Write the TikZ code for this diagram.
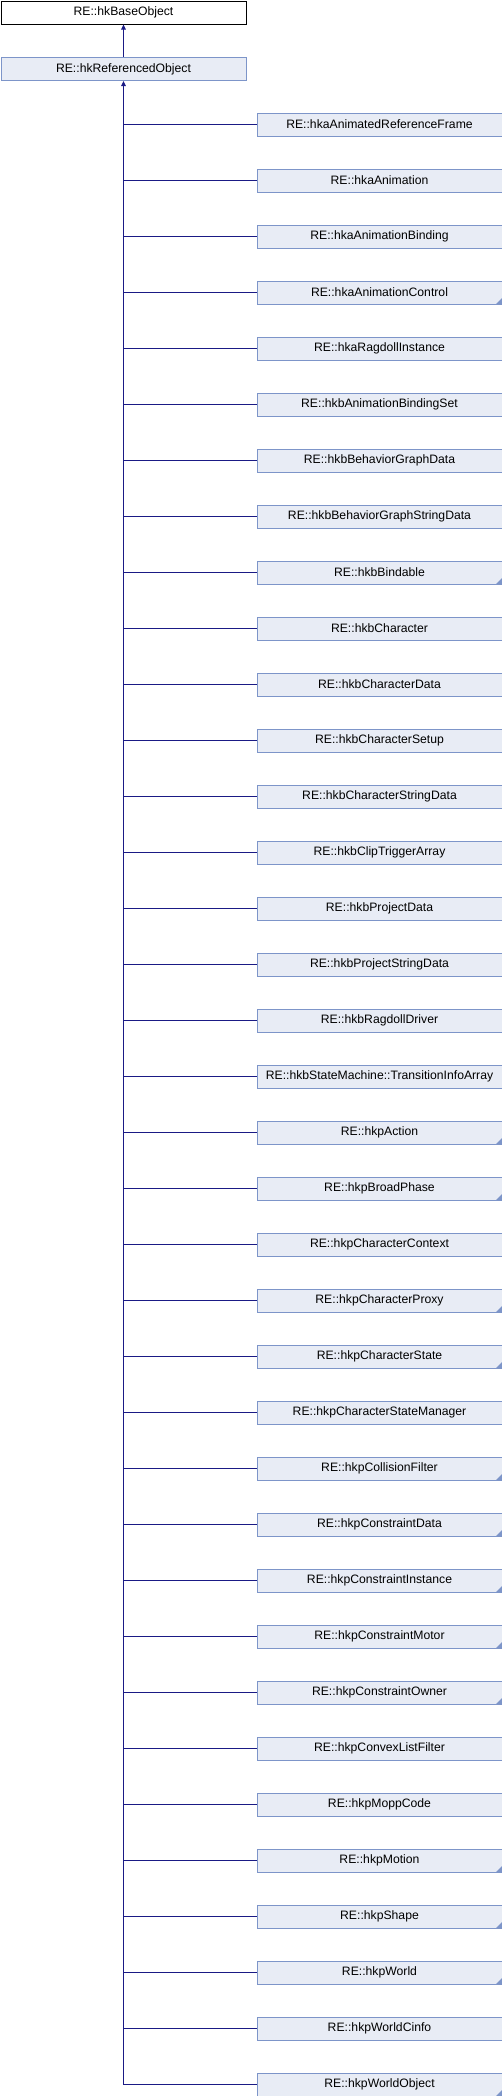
\documentclass[tikz,border=0pt]{standalone}
\usepackage{fontspec}
\setmainfont{Liberation Sans}
\usetikzlibrary{arrows.meta}
\definecolor{boxfill}{HTML}{E8ECF5}
\definecolor{boxline}{HTML}{7D95C9}
\definecolor{edgecol}{HTML}{1A1A85}
\tikzset{
  cls/.style={rectangle, draw=boxline, fill=boxfill, line width=1pt,
    minimum width=245pt, minimum height=23pt, inner sep=0pt, anchor=north west,
    font=\fontsize{12.2}{14}\selectfont},
  basecls/.style={cls, draw=black, fill=white},
  more/.style={path picture={\fill[boxline] (path picture bounding box.south east) -- ++(-6pt,0pt) -- ++(6pt,6pt) -- cycle;}},
  edge/.style={draw=edgecol, line width=1pt},
  inh/.style={edge, {Triangle[length=5pt,width=4.5pt]}-},
}
\begin{document}
\begin{tikzpicture}[x=1pt,y=-1pt]
\useasboundingbox (0,0) rectangle (502,2096);
\node[basecls] (base) at (0.5,0.5) {RE::hkBaseObject};
\node[cls] (ref) at (0.5,57) {RE::hkReferencedObject};
\draw[inh] (base.south) -- (ref.north);
\foreach \n/\t/\m [count=\i from 0] in {
  c1/RE::hkaAnimatedReferenceFrame/0,
  c2/RE::hkaAnimation/0,
  c3/RE::hkaAnimationBinding/0,
  c4/RE::hkaAnimationControl/1,
  c5/RE::hkaRagdollInstance/0,
  c6/RE::hkbAnimationBindingSet/0,
  c7/RE::hkbBehaviorGraphData/0,
  c8/RE::hkbBehaviorGraphStringData/0,
  c9/RE::hkbBindable/1,
  c10/RE::hkbCharacter/0,
  c11/RE::hkbCharacterData/0,
  c12/RE::hkbCharacterSetup/0,
  c13/RE::hkbCharacterStringData/0,
  c14/RE::hkbClipTriggerArray/0,
  c15/RE::hkbProjectData/0,
  c16/RE::hkbProjectStringData/0,
  c17/RE::hkbRagdollDriver/0,
  c18/RE::hkbStateMachine::TransitionInfoArray/0,
  c19/RE::hkpAction/1,
  c20/RE::hkpBroadPhase/1,
  c21/RE::hkpCharacterContext/0,
  c22/RE::hkpCharacterProxy/1,
  c23/RE::hkpCharacterState/1,
  c24/RE::hkpCharacterStateManager/0,
  c25/RE::hkpCollisionFilter/1,
  c26/RE::hkpConstraintData/1,
  c27/RE::hkpConstraintInstance/1,
  c28/RE::hkpConstraintMotor/1,
  c29/RE::hkpConstraintOwner/1,
  c30/RE::hkpConvexListFilter/0,
  c31/RE::hkpMoppCode/0,
  c32/RE::hkpMotion/1,
  c33/RE::hkpShape/1,
  c34/RE::hkpWorld/1,
  c35/RE::hkpWorldCinfo/0,
  c36/RE::hkpWorldObject/1} {
  \ifnum\m=1
    \node[cls, more] (\n) at (256.5, 112.5+56*\i) {\t};
  \else
    \node[cls] (\n) at (256.5, 112.5+56*\i) {\t};
  \fi
  \draw[edge] (\n.west) -- (ref.south |- \n.west);
}
\draw[inh] (ref.south) -- (ref.south |- c36.west);
\end{tikzpicture}
\end{document}
